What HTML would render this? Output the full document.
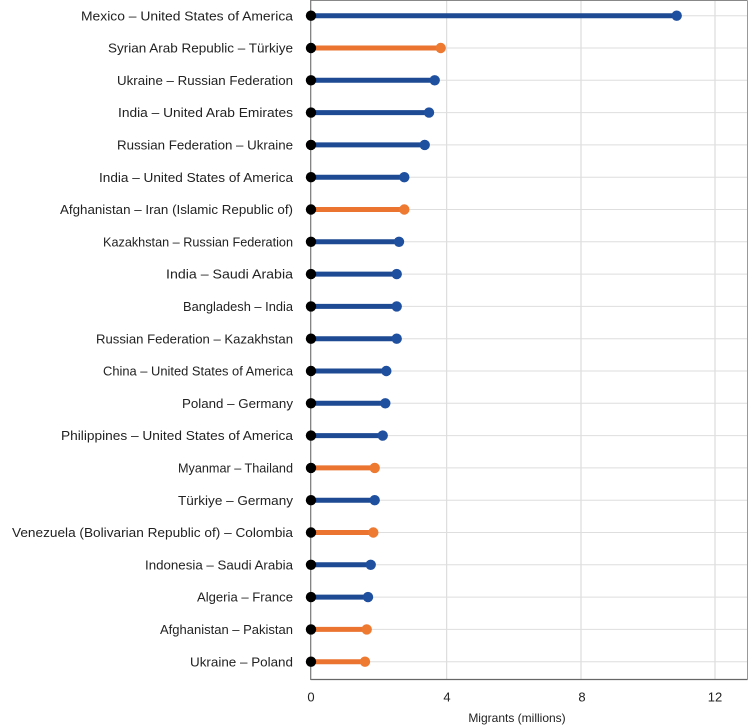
<!DOCTYPE html>
<html><head><meta charset="utf-8"><style>
html,body{margin:0;padding:0;background:#fff;}
svg{display:block;}
text{font-family:"Liberation Sans",sans-serif;fill:#222;}
</style></head><body>
<svg width="750" height="725" viewBox="0 0 750 725" xmlns="http://www.w3.org/2000/svg">
<rect x="0" y="0" width="750" height="725" fill="#fff"/>
<!-- vertical gridlines -->
<g stroke="#d6d6d6" stroke-width="1">
<line x1="446.7" y1="0.5" x2="446.7" y2="679.5"/>
<line x1="581" y1="0.5" x2="581" y2="679.5"/>
<line x1="715" y1="0.5" x2="715" y2="679.5"/>
</g>
<!-- horizontal gridlines -->
<g stroke="#dedede" stroke-width="1" id="hg"></g>
<!-- frame -->
<line x1="310.7" y1="0.5" x2="747.5" y2="0.5" stroke="#888" stroke-width="1"/>
<line x1="747.5" y1="0.5" x2="747.5" y2="679.5" stroke="#999" stroke-width="1"/>
<line x1="310.7" y1="679.5" x2="747.5" y2="679.5" stroke="#666" stroke-width="1.2"/>
<line x1="310.7" y1="0" x2="310.7" y2="680" stroke="#777" stroke-width="1.2"/>
<g id="rows"></g>
<g font-size="13" text-anchor="middle">
<text x="311" y="701.5">0</text>
<text x="447" y="701.5">4</text>
<text x="582" y="701.5">8</text>
<text x="715" y="701.5">12</text>
</g>
<text x="517" y="722" font-size="12" text-anchor="middle">Migrants (millions)</text>
<g id="labels" font-size="13" text-anchor="end"></g>
</svg>
<script>
var data=[
["Mexico – United States of America",676.7,"b",81],
["Syrian Arab Republic – Türkiye",440.7,"o",108],
["Ukraine – Russian Federation",434.7,"b",117],
["India – United Arab Emirates",429,"b",118],
["Russian Federation – Ukraine",424.7,"b",117],
["India – United States of America",404.3,"b",99],
["Afghanistan – Iran (Islamic Republic of)",404.3,"o",60],
["Kazakhstan – Russian Federation",399,"b",103],
["India – Saudi Arabia",396.7,"b",166],
["Bangladesh – India",396.7,"b",183],
["Russian Federation – Kazakhstan",396.7,"b",96],
["China – United States of America",386.3,"b",103],
["Poland – Germany",385.3,"b",182],
["Philippines – United States of America",382.7,"b",61],
["Myanmar – Thailand",374.7,"o",178],
["Türkiye – Germany",374.7,"b",178],
["Venezuela (Bolivarian Republic of) – Colombia",373.3,"o",12],
["Indonesia – Saudi Arabia",370.7,"b",145],
["Algeria – France",368,"b",197],
["Afghanistan – Pakistan",366.7,"o",160],
["Ukraine – Poland",365,"o",190]
];
var NS="http://www.w3.org/2000/svg";
var hg=document.getElementById("hg"),rows=document.getElementById("rows"),lab=document.getElementById("labels");
function el(t,a,p){var e=document.createElementNS(NS,t);for(var k in a)e.setAttribute(k,a[k]);p.appendChild(e);return e;}
data.forEach(function(d,i){
 var y=15.7+i*32.3;
 var lc=d[2]=="b"?"#1d4a93":"#ea7430";
 var dc=d[2]=="b"?"#1f4f9f":"#ee7a32";
 el("line",{x1:310.7,y1:y,x2:747,y2:y},hg);
 el("line",{x1:311,y1:y,x2:d[1],y2:y,stroke:lc,"stroke-width":5},rows);
 el("circle",{cx:d[1],cy:y,r:5.2,fill:dc},rows);
 el("circle",{cx:311,cy:y,r:5.2,fill:"#000"},rows);
 var t=el("text",{x:293,y:y+4.6,textLength:(293-d[3]),lengthAdjust:"spacingAndGlyphs"},lab);
 t.textContent=d[0];
});
</script>
</body></html>
